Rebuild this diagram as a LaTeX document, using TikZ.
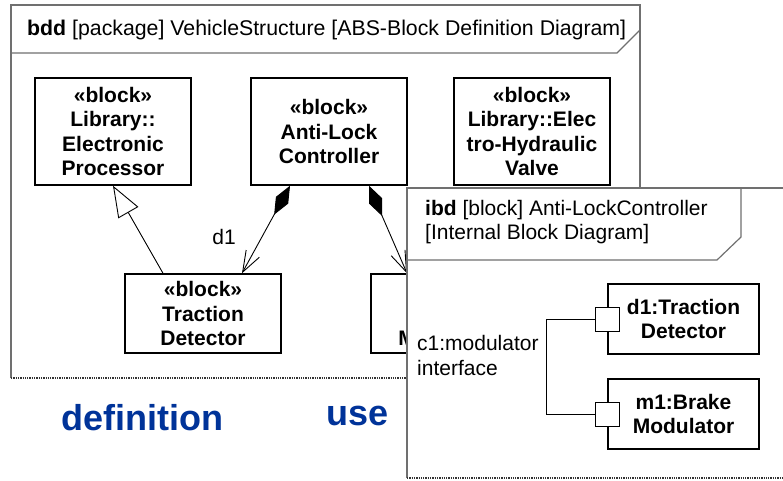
\documentclass[tikz,border=0pt]{standalone}
\usepackage{fontspec}
\setmainfont{Liberation Sans}
\usetikzlibrary{arrows.meta,positioning,calc}
\definecolor{FrameGray}{RGB}{112,112,112}
\definecolor{UseBlue}{RGB}{0,51,153}
\newcommand{\blockfont}{\fontsize{21}{24.5}\selectfont\bfseries}
\newcommand{\plainfont}{\fontsize{21}{24.5}\selectfont}
\tikzset{
  >=Latex,
  block/.style={draw=black,line width=1.5pt,fill=white,align=center,font=\blockfont,minimum width=156pt,inner sep=0pt},
  partbox/.style={block,line width=1.3pt,minimum width=151pt,minimum height=70pt},
  port/.style={draw=black,line width=.9pt,fill=white,minimum size=24pt,inner sep=0pt},
  frameline/.style={draw=FrameGray,line width=1.2pt},
  frameedge/.style={draw=black!80,line width=1.3pt,densely dotted},
  assoc/.style={draw=black,line width=.9pt},
  generalize/.style={-{Triangle[open,length=31pt,width=23pt]},line width=.9pt},
  compose/.style={{Diamond[length=33pt,width=14pt]}-{Straight Barb[length=21pt,width=15pt]},line width=.9pt},
  tag/.style={font=\plainfont,align=left,inner sep=0pt},
  bigword/.style={font=\fontsize{36}{40}\selectfont\bfseries,text=UseBlue,inner sep=0pt,anchor=base}
}
\begin{document}
\begin{tikzpicture}[x=1pt,y=-1pt]
  \useasboundingbox[fill=white] (0,0) rectangle (783,480);
  % bdd frame
  \draw[frameline] (11,378) -- (11,5) -- (640,5) -- (640,378);
  \draw[frameedge] (11,378) -- (640,378);
  \draw[frameline] (11,53) -- (617,53) -- (640,30);
  \node[tag,anchor=west,font=\fontsize{21.3}{24.5}\selectfont] (bddhead) at (27,30) {\textbf{bdd} [package] VehicleStructure [ABS-Block Definition Diagram]};
  \node[block,minimum height=107pt] (proc) at (113,131.5) {«block»\\Library::\\Electronic\\Processor};
  \node[block,minimum height=107pt] (ctrl) at (329,131.5) {«block»\\Anti-Lock\\Controller};
  \node[block,minimum height=107pt] (valve) at (532,131.5) {«block»\\Library::Elec\\tro-Hydraulic\\Valve};
  \node[block,minimum height=79pt] (trac) at (203,313.5) {«block»\\Traction\\Detector};
  \node[block,minimum height=79pt] (brake) at (449,313.5) {«block»\\Brake\\Modulator};
  \draw[generalize] ([xshift=-40pt]trac.north) -- (proc.south);
  \draw[compose] ([xshift=-39pt]ctrl.south) -- ([xshift=39pt]trac.north);
  \draw[compose] ([xshift=40pt]ctrl.south) -- ([xshift=-42pt]brake.north);
  \node[tag] (d1lbl) at (224,237) {d1};
  \node[bigword] (defword) at (142,430) {definition};
  \node[bigword] (useword) at (357.5,425) {use};
  % ibd frame
  \fill[white] (407,188) rectangle (783,478);
  \draw[frameline] (407,478) -- (407,188) -- (783,188);
  \draw[frameedge] (407,478) -- (783,478);
  \draw[frameline] (407,260) -- (717,260) -- (741,237) -- (741,188);
  \node[tag,anchor=north west] (ibdhead) at (425,200) {\textbf{ibd} [block] Anti-LockController\\{[Internal Block Diagram]}};
  \node[partbox] (dpart) at (683.5,319) {d1:Traction\\Detector};
  \node[partbox] (mpart) at (683.5,414) {m1:Brake\\Modulator};
  \node[port] (dport) at (dpart.west) {};
  \node[port] (mport) at (mpart.west) {};
  \draw[assoc] (dport.west) -- ++(-48,0) |- (mport.west);
  \node[tag,anchor=west] (c1lbl) at (417,355.5) {c1:modulator\\interface};
\end{tikzpicture}
\end{document}
